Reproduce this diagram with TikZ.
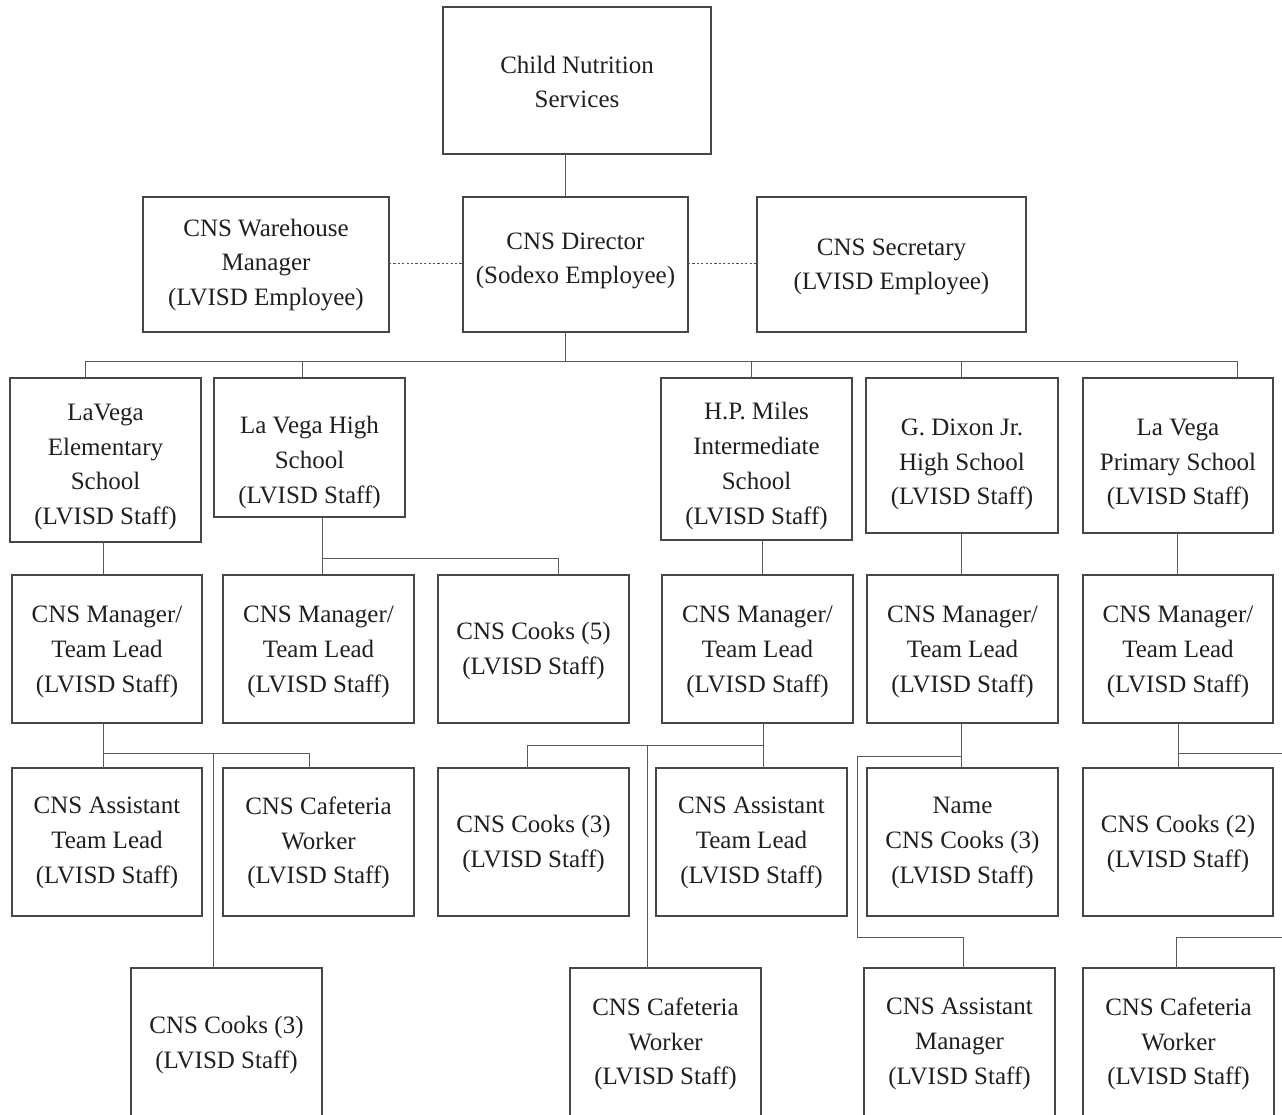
\documentclass[tikz,border=0pt]{standalone}
\usepackage{fontspec}
\setmainfont{Liberation Serif}
\begin{document}
\begin{tikzpicture}[x=1pt,y=-1pt,
  box/.style={draw=black!72, line width=1.1pt, inner sep=0pt, outer sep=0pt},
  txt/.style={align=center, inner sep=0pt, text=black!88,
    font=\fontsize{25}{34.7}\selectfont},
  link/.style={draw=black!65, line width=1pt},
  dotlink/.style={draw=black!70, line width=0.9pt, dash pattern=on 2.2pt off 2.2pt}]

% a box from (x1,y1) to (x2,y2) with its text centred at height ty
\newcommand\orgbox[7]{%
  \node[box, minimum width=#4pt-#2pt, minimum height=#5pt-#3pt]
    (#1) at ({(#2+#4)/2},{(#3+#5)/2}) {};
  \node[txt] (#1-t) at ({(#2+#4)/2},#6) {#7};}

\clip (0,0) rectangle (1282,1115);

% top levels
\orgbox{cns}{443}{7}{711}{154}{82}{Child Nutrition\\Services}
\orgbox{wh}{143}{197}{389}{332}{265}{CNS Warehouse\\Manager\\(LVISD Employee)}
\orgbox{dir}{463}{197}{688}{332}{261}{CNS Director\\(Sodexo Employee)}
\orgbox{sec}{757}{197}{1026}{332}{267}{CNS Secretary\\(LVISD Employee)}

% schools
\orgbox{elem}{10}{378}{201}{542}{467}{LaVega\\Elementary\\School\\(LVISD Staff)}
\orgbox{high}{214}{378}{405}{517}{462.5}{La Vega High\\School\\(LVISD Staff)}
\orgbox{hpm}{661}{378}{852}{540}{466}{H.P. Miles\\Intermediate\\School\\(LVISD Staff)}
\orgbox{gdx}{866}{378}{1058}{533}{464.5}{G. Dixon Jr.\\High School\\(LVISD Staff)}
\orgbox{prim}{1083}{378}{1273}{533}{464.5}{La Vega\\Primary School\\(LVISD Staff)}

% managers
\orgbox{m1}{12}{575}{202}{723}{652}{CNS Manager/\\Team Lead\\(LVISD Staff)}
\orgbox{m2}{223}{575}{414}{723}{652}{CNS Manager/\\Team Lead\\(LVISD Staff)}
\orgbox{ck5}{438}{575}{629}{723}{651}{CNS Cooks (5)\\(LVISD Staff)}
\orgbox{m3}{662}{575}{853}{723}{652}{CNS Manager/\\Team Lead\\(LVISD Staff)}
\orgbox{m4}{867}{575}{1058}{723}{652}{CNS Manager/\\Team Lead\\(LVISD Staff)}
\orgbox{m5}{1083}{575}{1273}{723}{652}{CNS Manager/\\Team Lead\\(LVISD Staff)}

% staff, fourth row
\orgbox{a1}{12}{768}{202}{916}{843}{CNS Assistant\\Team Lead\\(LVISD Staff)}
\orgbox{cw1}{223}{768}{414}{916}{843}{CNS Cafeteria\\Worker\\(LVISD Staff)}
\orgbox{ck3}{438}{768}{629}{916}{844}{CNS Cooks (3)\\(LVISD Staff)}
\orgbox{a2}{656}{768}{847}{916}{843}{CNS Assistant\\Team Lead\\(LVISD Staff)}
\orgbox{ck3b}{867}{768}{1058}{916}{843}{Name\\CNS Cooks (3)\\(LVISD Staff)}
\orgbox{ck2}{1083}{768}{1273}{916}{844}{CNS Cooks (2)\\(LVISD Staff)}

% staff, fifth row
\orgbox{ck3c}{131}{968}{322}{1122}{1045}{CNS Cooks (3)\\(LVISD Staff)}
\orgbox{cw2}{570}{968}{761}{1122}{1044}{CNS Cafeteria\\Worker\\(LVISD Staff)}
\orgbox{am}{864}{968}{1055}{1122}{1044}{CNS Assistant\\Manager\\(LVISD Staff)}
\orgbox{cw3}{1083}{968}{1274}{1122}{1044}{CNS Cafeteria\\Worker\\(LVISD Staff)}

% connector points
\coordinate (trunk) at (565,361);
\coordinate (busL) at (85,361);
\coordinate (busR) at (1237,361);
\coordinate (d2) at (302,361);
\coordinate (d3) at (751,361);
\coordinate (d4) at (961,361);
\coordinate (dl) at (0,263);
\coordinate (x103) at (103,0);
\coordinate (x322) at (322,0);
\coordinate (hb) at (558,558);
\coordinate (x762) at (762,0);
\coordinate (x763) at (763,0);
\coordinate (x961) at (961,0);
\coordinate (x1177) at (1177,0);
\coordinate (x1178) at (1178,0);
\coordinate (b1) at (309,753);
\coordinate (v1) at (213,753);
\coordinate (b3) at (527,745);
\coordinate (v3) at (647,745);
\coordinate (b4) at (857,756);
\coordinate (k4) at (857,937);
\coordinate (x963) at (963,0);
\coordinate (edge1) at (1282,753);
\coordinate (edge2) at (1282,937);
\coordinate (x1176) at (1176,0);

% head office
\draw[link] (cns.south -| trunk) -- (dir.north -| trunk);
\draw[dotlink] (wh.east |- dl) -- (dir.west |- dl);
\draw[dotlink] (dir.east |- dl) -- (sec.west |- dl);
\draw[link] (dir.south -| trunk) -- (trunk);
\draw[link] (busL) -- (busR);
\draw[link] (busL) -- (elem.north -| busL);
\draw[link] (d2) -- (high.north -| d2);
\draw[link] (d3) -- (hpm.north -| d3);
\draw[link] (d4) -- (gdx.north -| d4);
\draw[link] (busR) -- (prim.north -| busR);

% schools to managers
\draw[link] (elem.south -| x103) -- (m1.north -| x103);
\draw[link] (high.south -| x322) -- (m2.north -| x322);
\draw[link] (hb -| x322) -- (hb) -- (ck5.north -| hb);
\draw[link] (hpm.south -| x762) -- (m3.north -| x762);
\draw[link] (gdx.south -| x961) -- (m4.north -| x961);
\draw[link] (prim.south -| x1177) -- (m5.north -| x1177);

% LaVega Elementary staff
\draw[link] (m1.south -| x103) -- (a1.north -| x103);
\draw[link] (b1 -| x103) -- (b1) -- (cw1.north -| b1);
\draw[link] (v1) -- (ck3c.north -| v1);

% H.P. Miles staff
\draw[link] (m3.south -| x763) -- (a2.north -| x763);
\draw[link] (b3 -| x763) -- (b3) -- (ck3.north -| b3);
\draw[link] (v3) -- (cw2.north -| v3);

% G. Dixon staff
\draw[link] (m4.south -| x961) -- (ck3b.north -| x961);
\draw[link] (b4 -| x961) -- (b4) -- (k4) -- (k4 -| x963) -- (am.north -| x963);

% La Vega Primary staff
\draw[link] (m5.south -| x1178) -- (ck2.north -| x1178);
\draw[link] (edge1 -| x1178) -- (edge1);
\draw[link] (edge2) -- (edge2 -| x1176) -- (cw3.north -| x1176);
\end{tikzpicture}
\end{document}
